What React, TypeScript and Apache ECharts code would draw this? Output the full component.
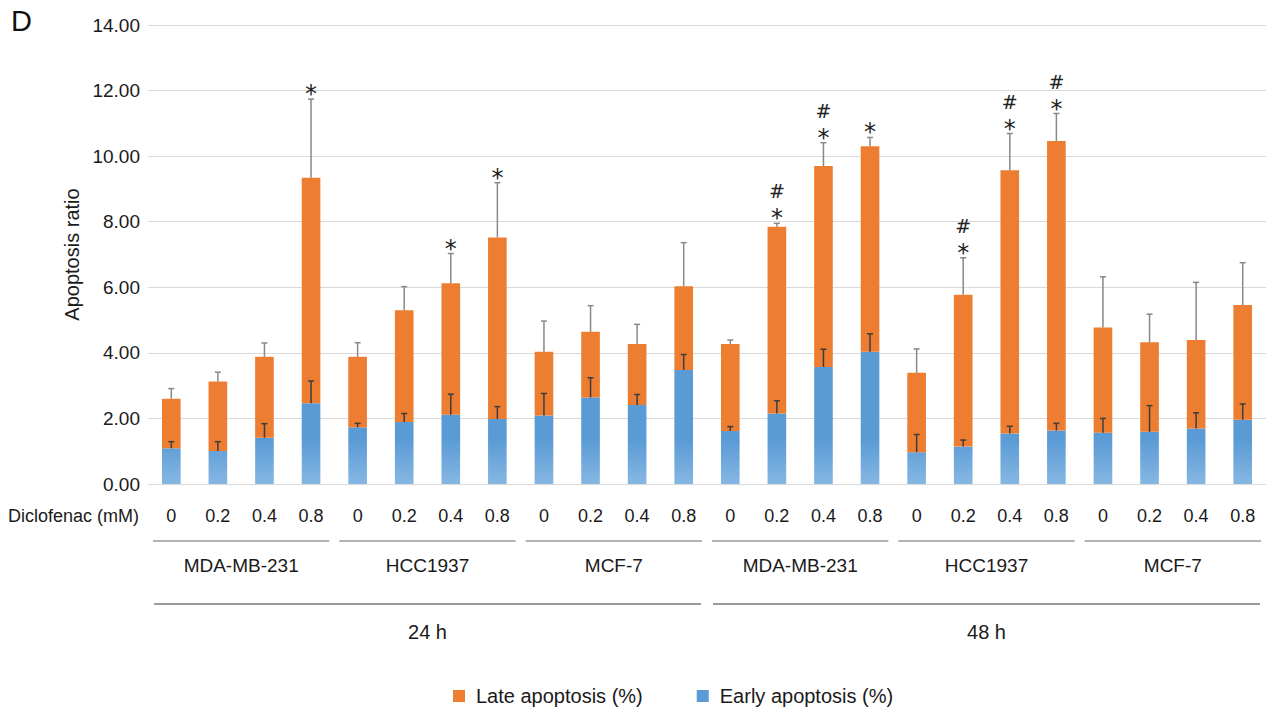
import React, { useEffect, useRef } from "react";
import * as echarts from "echarts";

// ---- data ----
const doseLevels = ["0", "0.2", "0.4", "0.8"];
const cellLines = ["MDA-MB-231", "HCC1937", "MCF-7", "MDA-MB-231", "HCC1937", "MCF-7"];
const timePoints = ["24 h", "48 h"];
const categories = cellLines.flatMap(() => doseLevels);

const earlyMean = [
  1.09, 1.01, 1.41, 2.46, 1.73, 1.89, 2.11, 1.98, 2.09, 2.64, 2.41, 3.48,
  1.62, 2.15, 3.57, 4.03, 0.97, 1.14, 1.54, 1.63, 1.56, 1.59, 1.69, 1.96,
];
const earlyErr = [
  0.2, 0.28, 0.43, 0.68, 0.12, 0.26, 0.63, 0.38, 0.67, 0.6, 0.32, 0.47,
  0.13, 0.39, 0.54, 0.55, 0.54, 0.2, 0.22, 0.22, 0.44, 0.8, 0.48, 0.48,
];
const lateMean = [
  1.51, 2.12, 2.47, 6.88, 2.15, 3.41, 4.01, 5.54, 1.94, 2.0, 1.86, 2.55,
  2.65, 5.7, 6.13, 6.27, 2.42, 4.63, 8.03, 8.83, 3.21, 2.73, 2.7, 3.5,
];
const lateErr = [
  0.31, 0.28, 0.42, 2.4, 0.43, 0.72, 0.91, 1.67, 0.94, 0.8, 0.6, 1.33,
  0.12, 0.1, 0.71, 0.27, 0.73, 1.13, 1.12, 0.84, 1.55, 0.86, 1.76, 1.29,
];
const significance = [
  "", "", "", "*", "", "", "*", "*", "", "", "", "",
  "", "*#", "*#", "*", "", "*#", "*#", "*#", "", "", "", "",
];
const yTicks = [0, 2, 4, 6, 8, 10, 12, 14];

const LATE = "Late apoptosis (%)";
const EARLY = "Early apoptosis (%)";
const FONT = "Liberation Sans, Arial, Helvetica, sans-serif";
const TXT = "#1a1a1a";

export default function App() {
  const ref = useRef<HTMLDivElement>(null);

  useEffect(() => {
    if (!ref.current) return;
    const chart = echarts.init(ref.current, undefined, { renderer: "svg" });

    const errData = categories.map((_, i) => {
      const total = earlyMean[i] + lateMean[i];
      return [i, earlyMean[i], earlyMean[i] + earlyErr[i], total, total + lateErr[i]];
    });

    const blueGrad = new echarts.graphic.LinearGradient(
      0, 440, 0, 484,
      [
        { offset: 0, color: "#5B9BD5" },
        { offset: 1, color: "#86B7E3" },
      ],
      true
    );

    const option: any = {
      animation: false,
      backgroundColor: "#ffffff",
      textStyle: { fontFamily: FONT },
      grid: { left: 148, right: 0, top: 25, bottom: 230, containLabel: false },
      legend: {
        data: [LATE, EARLY],
        left: 453,
        top: 686,
        padding: 0,
        itemWidth: 12,
        itemHeight: 12,
        itemGap: 54,
        icon: "rect",
        textStyle: { fontSize: 20, color: TXT, fontFamily: FONT, padding: [0, 0, 0, 6] },
      },
      xAxis: {
        type: "category",
        data: categories,
        axisLine: { show: true, lineStyle: { color: "#D9D9D9", width: 1 } },
        axisTick: { show: false },
        axisLabel: { fontSize: 18, color: TXT, margin: 23, interval: 0, fontFamily: FONT },
        splitLine: { show: false },
      },
      yAxis: {
        type: "value",
        min: 0,
        max: 14,
        interval: 2,
        name: "Apoptosis ratio",
        nameLocation: "middle",
        nameGap: 66,
        nameTextStyle: { fontSize: 20, color: TXT, fontFamily: FONT },
        axisLine: { show: false },
        axisTick: { show: false },
        axisLabel: {
          fontSize: 19,
          color: TXT,
          margin: 8,
          fontFamily: FONT,
          formatter: (v: number) => (yTicks.includes(v) ? v.toFixed(2) : ""),
        },
        splitLine: { lineStyle: { color: "#D9D9D9", width: 1 } },
      },
      series: [
        {
          name: EARLY,
          type: "bar",
          stack: "total",
          data: earlyMean,
          barWidth: "40%",
          itemStyle: { color: blueGrad },
          z: 2,
        },
        {
          name: LATE,
          type: "bar",
          stack: "total",
          data: lateMean,
          barWidth: "40%",
          itemStyle: { color: "#ED7D31" },
          z: 2,
        },
        {
          name: "errors",
          type: "custom",
          data: errData,
          encode: { x: 0, y: [1, 2, 3, 4] },
          z: 10,
          silent: true,
          renderItem: (params: any, api: any) => {
            const i = api.value(0);
            const eTop = api.coord([i, api.value(1)]);
            const eHi = api.coord([i, api.value(2)]);
            const tTop = api.coord([i, api.value(3)]);
            const tHi = api.coord([i, api.value(4)]);
            const cap = 3;
            const dark = "#3d3d3d";
            const grey = "#888888";
            const children: any[] = [
              { type: "line", shape: { x1: eTop[0], y1: eTop[1], x2: eHi[0], y2: eHi[1] }, style: { stroke: dark, lineWidth: 1.5 } },
              { type: "line", shape: { x1: eHi[0] - cap, y1: eHi[1], x2: eHi[0] + cap, y2: eHi[1] }, style: { stroke: dark, lineWidth: 1.5 } },
              { type: "line", shape: { x1: tTop[0], y1: tTop[1], x2: tHi[0], y2: tHi[1] }, style: { stroke: grey, lineWidth: 1.5 } },
              { type: "line", shape: { x1: tHi[0] - cap, y1: tHi[1], x2: tHi[0] + cap, y2: tHi[1] }, style: { stroke: grey, lineWidth: 1.5 } },
            ];
            const sig = significance[params.dataIndex] || "";
            if (sig.includes("*")) {
              children.push({
                type: "text",
                x: tHi[0],
                y: tHi[1] - 5,
                style: { text: "*", fontSize: 24, fontFamily: "DejaVu Sans", fill: "#222", align: "center", verticalAlign: "middle" },
              });
            }
            if (sig.includes("#")) {
              children.push({
                type: "text",
                x: tHi[0],
                y: tHi[1] - 32,
                style: { text: "#", fontSize: 19, fontFamily: "DejaVu Sans", fill: "#222", align: "center", verticalAlign: "middle" },
              });
            }
            return { type: "group", children };
          },
        },
      ],
    };

    chart.setOption(option);

    // group labels under the axis, positioned through the category axis
    const cx = (i: number) => chart.convertToPixel({ xAxisIndex: 0 }, i) as number;
    const band = cx(1) - cx(0);
    const y0 = chart.convertToPixel({ yAxisIndex: 0 }, 0) as number;
    const graphics: any[] = [];
    const txt = (x: number, y: number, text: string, size: number, align = "center") => ({
      type: "text",
      x,
      y,
      style: {
        text,
        fontSize: size,
        fontFamily: FONT,
        fill: TXT,
        align,
        verticalAlign: "middle",
        textAlign: align,
        textVerticalAlign: "middle",
      },
    });
    const line = (x1: number, x2: number, y: number, w: number) => ({
      type: "line",
      shape: { x1, y1: y, x2, y2: y },
      style: { stroke: "#9a9a9a", lineWidth: w },
    });
    const nDose = doseLevels.length;
    cellLines.forEach((name, g) => {
      const a = cx(g * nDose) - band / 2;
      const b = cx(g * nDose + nDose - 1) + band / 2;
      graphics.push(line(a + 5, b - 5, y0 + 57, 1.5));
      graphics.push(txt((a + b) / 2, y0 + 81, name, 19));
    });
    const perTime = cellLines.length / timePoints.length;
    timePoints.forEach((name, t) => {
      const a = cx(t * perTime * nDose) - band / 2;
      const b = cx((t + 1) * perTime * nDose - 1) + band / 2;
      graphics.push(line(a + 6, b - 6, y0 + 120, 2));
      graphics.push(txt((a + b) / 2, y0 + 148, name, 20));
    });
    graphics.push(txt(8, y0 + 32, "Diclofenac (mM)", 18, "left"));
    graphics.push({
      type: "text",
      left: 11,
      top: 6,
      style: { text: "D", fontSize: 29, fontFamily: FONT, fill: "#111" },
    });
    chart.setOption({ graphic: graphics });

    return () => chart.dispose();
  }, []);

  return (
    <div
      ref={ref}
      style={{ position: "fixed", left: 0, top: 0, width: 1266, height: 714, background: "#fff" }}
    />
  );
}
